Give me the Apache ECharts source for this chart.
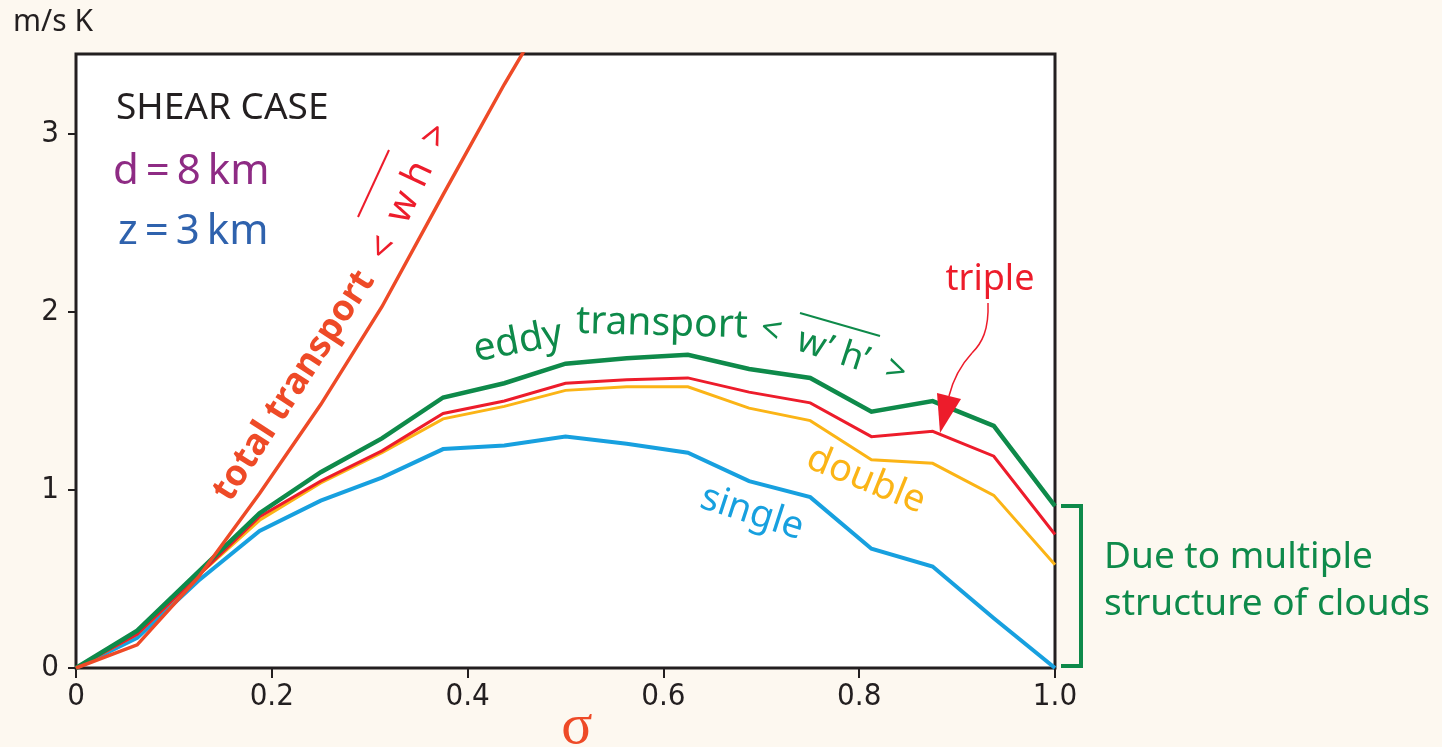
<!DOCTYPE html>
<html>
<head>
<meta charset="utf-8">
<script src="https://cdn.jsdelivr.net/npm/echarts@6/dist/echarts.min.js"></script>
<style>
html,body{margin:0;padding:0;background:#fdf8f0;}
#chart{width:1442px;height:747px;}
</style>
</head>
<body>
<div id="chart"></div>
<script>
// sigma levels
const sigma = [0, 0.0625, 0.125, 0.1875, 0.25, 0.3125, 0.375, 0.4375, 0.5, 0.5625, 0.625, 0.6875, 0.75, 0.8125, 0.875, 0.9375, 1.0];
// transport values (m/s K)
const eddy   = [0, 0.21, 0.54, 0.87, 1.10, 1.29, 1.52, 1.60, 1.71, 1.74, 1.76, 1.68, 1.63, 1.44, 1.50, 1.36, 0.91];
const triple = [0, 0.19, 0.52, 0.85, 1.05, 1.22, 1.43, 1.50, 1.60, 1.62, 1.63, 1.55, 1.49, 1.30, 1.33, 1.19, 0.75];
const double = [0, 0.19, 0.52, 0.83, 1.04, 1.21, 1.40, 1.47, 1.56, 1.58, 1.58, 1.46, 1.39, 1.17, 1.15, 0.97, 0.58];
const single = [0, 0.17, 0.49, 0.77, 0.94, 1.07, 1.23, 1.25, 1.30, 1.26, 1.21, 1.05, 0.96, 0.67, 0.57, 0.28, 0];
const total  = [0, 0.13, 0.51, 0.98, 1.48, 2.03, 2.66, 3.28, 3.86];
const yTicks = [0, 1, 2, 3];
const xTicks = [0, 0.2, 0.4, 0.6, 0.8, 1.0];

const pair = (xs, ys) => ys.map((v, i) => [xs[i], v]);
const FONT = '"Noto Sans", "Open Sans", sans-serif';
const AXFONT = '"DejaVu Sans Condensed", "Liberation Sans Narrow", sans-serif';
const C = {green:'#0e8a4a', red:'#ed1c2b', orange:'#fbb416', blue:'#17a0df', total:'#ee4a27', purple:'#8e2b84', zblue:'#2f62ad', dark:'#231f20'};

const chart = echarts.init(document.getElementById('chart'), null, {renderer:'canvas'});
const deg = d => d * Math.PI / 180;

function mkLine(name, data, color, width) {
  return {name, type:'line', data, symbol:'none', clip:true, animation:false,
    lineStyle:{color, width, join:'miter'}, z: 3};
}

chart.setOption({
  backgroundColor:'#fdf8f0',
  animation:false,
  grid:{left:76, top:54, right:387, bottom:79, show:true, backgroundColor:'#ffffff', borderColor:C.dark, borderWidth:3, containLabel:false},
  xAxis:{type:'value', min:0, max:1, interval:0.2,
    axisLine:{show:false}, splitLine:{show:false},
    axisTick:{show:true, inside:false, length:10, lineStyle:{color:C.dark, width:2}, customValues:xTicks},
    axisLabel:{margin:13, fontFamily:AXFONT, fontSize:31, color:C.dark, customValues:xTicks,
      formatter:v => v === 0 ? '0' : v.toFixed(1)}},
  yAxis:{type:'value', min:0, max:3.45, interval:1,
    axisLine:{show:false}, splitLine:{show:false},
    axisTick:{show:true, inside:false, length:8, lineStyle:{color:C.dark, width:2}, customValues:yTicks},
    axisLabel:{margin:17, fontFamily:AXFONT, fontSize:31, color:C.dark, customValues:yTicks,
      formatter:v => String(v)}},
  series:[
    mkLine('single', pair(sigma, single), C.blue, 4),
    mkLine('double', pair(sigma, double), C.orange, 3),
    mkLine('triple', pair(sigma, triple), C.red, 3),
    mkLine('eddy', pair(sigma, eddy), C.green, 4.5),
    mkLine('total', pair(sigma, total), C.total, 3.5)
  ]
});

const p10 = chart.convertToPixel({gridIndex:0}, [1, eddy[eddy.length-1]]);
const p00 = chart.convertToPixel({gridIndex:0}, [1, 0]);
const bx0 = p10[0] + 6, bx1 = p10[0] + 26;

function txt(text, x, y, size, color, opts) {
  opts = opts || {};
  return {type:'text', x, y, rotation: deg(opts.rot || 0), z:100,
    style:{text, fill:color, font:(opts.weight||'normal') + ' ' + size + 'px ' + (opts.family || FONT),
      textAlign:opts.align || 'left', textVerticalAlign:opts.valign || 'middle'}};
}
const TS = '\u2009';

chart.setOption({graphic:[
  txt('m/s K', 13, 22, 30, C.dark),
  txt('SHEAR CASE', 116, 108, 37, C.dark),
  txt('d' + TS + '=' + TS + '8' + TS + 'km', 113, 172, 42, C.purple),
  txt('z' + TS + '=' + TS + '3' + TS + 'km', 118, 232, 42, C.zblue),
  txt('total transport', 294, 386, 36, C.total, {align:'center', weight:'bold', rot:57}),
  txt('<  w h  >', 410, 192, 38, C.red, {align:'center', rot:65}),
  {type:'line', z:100, shape:{x1:358, y1:217, x2:389, y2:150}, style:{stroke:C.red, lineWidth:2}},
  txt('eddy', 518, 342, 39, C.green, {align:'center', rot:11}),
  txt('transport', 662, 324, 39, C.green, {align:'center', rot:-1.5}),
  txt('<  w’ h’  >', 833, 351, 36, C.green, {align:'center', rot:-18}),
  {type:'line', z:100, shape:{x1:800, y1:313, x2:880, y2:336}, style:{stroke:C.green, lineWidth:2}},
  txt('triple', 990, 280, 36, C.red, {align:'center'}),
  {type:'bezierCurve', z:100, shape:{x1:988, y1:303, cpx1:989, cpy1:330, cpx2:982, cpy2:343, x2:972, y2:353}, style:{stroke:C.red, lineWidth:1.5, fill:null}},
  {type:'bezierCurve', z:100, shape:{x1:972, y1:353, cpx1:960, cpy1:366, cpx2:953, cpy2:380, x2:949, y2:396}, style:{stroke:C.red, lineWidth:1.5, fill:null}},
  {type:'polygon', z:100, shape:{points:[[937,393],[961,399],[940,433]]}, style:{fill:C.red}},
  txt('double', 866, 480, 38, C.orange, {align:'center', rot:-22}),
  txt('single', 752, 513, 38, C.blue, {align:'center', rot:-18}),
  {type:'polyline', z:100, shape:{points:[[bx0, p10[1]], [bx1, p10[1]], [bx1, p00[1]-2], [bx0, p00[1]-2]]}, style:{stroke:C.green, lineWidth:4, fill:null}},
  txt('Due to multiple', 1104, 557, 37, C.green),
  txt('structure of clouds', 1104, 604, 37, C.green),
  txt('σ', 577, 728, 58, C.total, {align:'center', family:'"Liberation Serif", "DejaVu Serif", serif'})
]});
</script>
</body>
</html>
